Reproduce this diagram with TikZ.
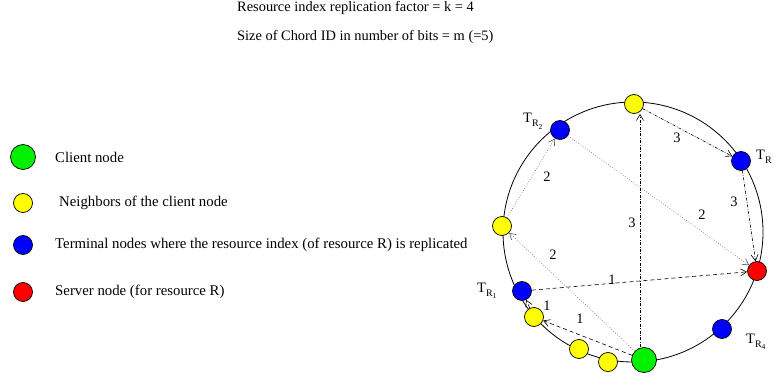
\documentclass[tikz,border=0pt]{standalone}
\usepackage{fontspec}
\setmainfont{Liberation Serif}
\usetikzlibrary{arrows.meta}
\definecolor{cgreen}{RGB}{0,240,0}
\definecolor{cyellow}{RGB}{255,255,0}
\definecolor{cblue}{RGB}{0,0,255}
\definecolor{cred}{RGB}{255,0,0}
\newcommand{\tsub}[2]{T\raisebox{-4pt}{\fontsize{10}{10}\selectfont #1\raisebox{-2.5pt}{\fontsize{7.5}{8}\selectfont #2}}}
\tikzset{
  nd/.style={circle,draw=black,line width=0.7pt,minimum size=19pt,inner sep=0pt},
  big/.style={nd,minimum size=25pt},
  txt/.style={font=\fontsize{14.4}{16}\selectfont,inner sep=0pt},
  lbl/.style={txt,anchor=west},
  leg/.style={font=\fontsize{14.8}{16}\selectfont,inner sep=0pt,anchor=west},
  tip/.style={-{Straight Barb[length=6pt,width=7pt]}},
  ddot/.style={tip,line width=0.6pt,dash pattern=on 3pt off 1.5pt on 0.8pt off 1.5pt},
  dtt/.style={tip,line width=0.6pt,black!65,dotted},
  dsh/.style={tip,line width=0.6pt,dash pattern=on 4pt off 3pt},
}
\begin{document}
\begin{tikzpicture}[x=1pt,y=-1pt]
\useasboundingbox (0,0) rectangle (774,377);
\fill[white] (0,0) rectangle (774,377);
% header
\node[lbl] (h1) at (237,8) {Resource index replication factor = k = 4};
\node[lbl] (h2) at (237,37) {Size of Chord ID in number of bits = m (=5)};
% legend
\node[big,fill=cgreen] (lg) at (23,157) {};
\node[nd,fill=cyellow] (ly) at (23,203) {};
\node[nd,fill=cblue] (lb) at (23,245) {};
\node[nd,fill=cred] (lr) at (23,292) {};
\node[leg] (tg) at (55,157) {Client node};
\node[leg] (ty) at (59,203) {Neighbors of the client node};
\node[leg] (tb) at (55,245) {Terminal nodes where the resource index (of resource R) is replicated};
\node[leg] (tr) at (55,292) {Server node (for resource R)};
% ring
\coordinate (c) at (633,232);
\draw[line width=0.8pt] (c) circle[radius=130];
% ring nodes
\node[nd,fill=cyellow] (ytop) at (634,104) {};
\node[nd,fill=cblue] (tr2) at (560,130) {};
\node[nd,fill=cblue] (trr) at (741,161) {};
\node[nd,fill=cyellow] (yleft) at (502,226) {};
\node[nd,fill=cred] (srv) at (757,271) {};
\node[nd,fill=cblue] (tr1) at (522,291) {};
\node[nd,fill=cyellow] (y1) at (534,317) {};
\node[nd,fill=cblue] (tr4) at (722,329) {};
\node[nd,fill=cyellow] (y2) at (579,349) {};
\node[nd,fill=cyellow] (y3) at (608,362) {};
\node[big,fill=cgreen] (cl) at (644,360) {};
% node labels
\node[txt,anchor=base west] (l2) at (523,123) {\tsub{R}{2}};
\node[txt,anchor=base west] (lR) at (756,160) {\tsub{R}{}};
\node[txt,anchor=base west] (l1) at (477,292) {\tsub{R}{1}};
\node[txt,anchor=base west] (l4) at (746,343) {\tsub{R}{4}};
% route 3
\draw[ddot] ([xshift=-4pt]cl.north) -- ([xshift=6pt]ytop.south);
\draw[ddot] (ytop) -- (trr);
\draw[ddot] (trr) -- (srv);
% route 2
\draw[dtt] (cl) -- (yleft);
\draw[dtt] (yleft) -- (tr2);
\draw[dtt] (tr2) -- (srv);
% route 1
\draw[dsh] (cl) -- (y1);
\draw[dsh] (y1) -- (tr1);
\draw[dsh] (tr1) -- (srv);
% arrow labels
\node[txt] (n3a) at (632,223) {3};
\node[txt] (n3b) at (677,138) {3};
\node[txt] (n3c) at (734,202) {3};
\node[txt] (n2a) at (553,255) {2};
\node[txt] (n2b) at (547,177) {2};
\node[txt] (n2c) at (702,215) {2};
\node[txt] (n1a) at (580,319) {1};
\node[txt] (n1b) at (547,306) {1};
\node[txt] (n1c) at (612,280) {1};
\end{tikzpicture}
\end{document}
